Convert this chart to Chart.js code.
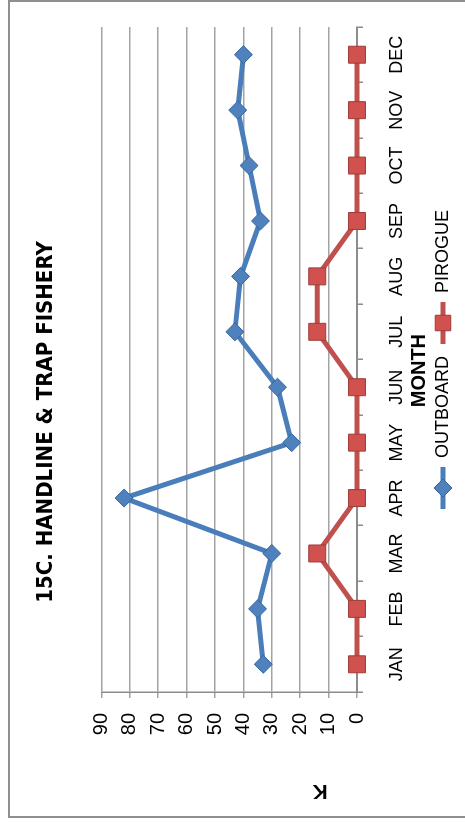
<!DOCTYPE html>
<html>
<head>
<meta charset="utf-8">
<script src="https://cdn.jsdelivr.net/npm/chart.js@4"></script>
<style>
  html, body { margin: 0; padding: 0; background: #fff; overflow: hidden; }
  /* the chart is drawn landscape and turned a quarter turn to the left */
  #frame { position: absolute; left: 0; top: 0; width: 823px; height: 465px;
           transform-origin: 0 0; transform: translate(0, 823px) rotate(-90deg); background: #fff; }
  #box { position: absolute; left: 5px; top: 8px; width: 818px; height: 470px;
         box-sizing: border-box; border: 2px solid #8f8f8f; border-bottom: none; }
  #c { position: absolute; left: 0; top: 0; }
</style>
</head>
<body>
<div id="frame">
  <div id="box"></div>
  <canvas id="c" width="823" height="465"></canvas>
</div>
<script>
// 15C. handline & trap fishery — catch by month
const months = ['JAN', 'FEB', 'MAR', 'APR', 'MAY', 'JUN', 'JUL', 'AUG', 'SEP', 'OCT', 'NOV', 'DEC'];
const outboard = [33, 35, 30, 82, 23, 28, 43, 41, 34, 38, 42, 40];
const pirogue = [0, 0, 14, 0, 0, 0, 14, 14, 0, 0, 0, 0];
const yMin = 0, yMax = 90, yStep = 10;

const BLUE = '#4a7ebb', BLUE_PT = '#4f81bd', BLUE_EDGE = '#35659e';
const RED = '#c0504d', RED_PT = '#d0514e', RED_EDGE = '#9e3d3a';

Chart.defaults.font.family = "'Liberation Sans', Arial, sans-serif";
Chart.defaults.color = '#000';

// legend swatch: a short line with the marker in its middle, like the office legend
function swatch(line, fill, edge, style, r) {
  const c = document.createElement('canvas');
  c.width = 42; c.height = 26;
  const x = c.getContext('2d');
  x.strokeStyle = line; x.lineWidth = 5; x.lineCap = 'butt';
  x.beginPath(); x.moveTo(0, 13); x.lineTo(42, 13); x.stroke();
  x.fillStyle = fill; x.strokeStyle = edge; x.lineWidth = 1;
  Chart.helpers.drawPoint(x, { pointStyle: style, radius: r, borderWidth: 1, rotation: 0 }, 21, 13);
  return c;
}
const icons = [swatch(BLUE, BLUE_PT, BLUE_EDGE, 'rectRot', 9), swatch(RED, RED_PT, RED_EDGE, 'rect', 11)];

new Chart(document.getElementById('c'), {
  type: 'line',
  data: {
    labels: months,
    datasets: [
      { label: 'OUTBOARD', data: outboard, borderColor: BLUE, borderWidth: 5, tension: 0, clip: false,
        borderJoinStyle: 'round', pointStyle: 'rectRot', pointRadius: 9,
        pointBackgroundColor: BLUE_PT, pointBorderColor: BLUE_EDGE, pointBorderWidth: 1 },
      { label: 'PIROGUE', data: pirogue, borderColor: RED, borderWidth: 5, tension: 0, clip: false,
        borderJoinStyle: 'round', pointStyle: 'rect', pointRadius: 12,
        pointBackgroundColor: RED_PT, pointBorderColor: RED_EDGE, pointBorderWidth: 1 },
    ],
  },
  options: {
    responsive: false, animation: false,
    layout: { padding: { left: 6, right: 27, top: 8, bottom: 3 } },
    plugins: {
      title: { display: true, text: '15C. HANDLINE & TRAP FISHERY', color: '#000',
        font: { family: "'Liberation Sans Narrow', 'DejaVu Sans Condensed', 'Liberation Sans', sans-serif", size: 22, weight: 'bold' },
        padding: { top: 25, bottom: 42 } },
      legend: { position: 'bottom', fullSize: false,
        labels: { usePointStyle: true, pointStyleWidth: 42, padding: 12, font: { size: 18 }, color: '#000',
          generateLabels: ch => Chart.defaults.plugins.legend.labels.generateLabels(ch)
            .map((it, i) => Object.assign(it, { pointStyle: icons[i] })) } },
      tooltip: { enabled: false },
    },
    scales: {
      x: {
        offset: true,
        grid: { offset: true, drawOnChartArea: false, tickLength: 6, color: '#8c8c8c', lineWidth: 1.5 },
        border: { color: '#8c8c8c', width: 2 },
        ticks: { padding: 23, maxRotation: 0, autoSkip: false, font: { size: 18 } },
        title: { display: true, text: 'MONTH    ', font: { size: 20, weight: 'bold' }, padding: { top: 0, bottom: -9 } },
        afterFit: s => { s.height = 65; },
      },
      y: {
        min: yMin, max: yMax,
        ticks: { stepSize: yStep, padding: 15, font: { size: 20 } },
        grid: { color: '#a3a3a3', lineWidth: 1.5, tickLength: 6 },
        border: { color: '#8c8c8c', width: 1.5 },
        title: { display: true, text: '     K', align: 'start', font: { size: 21, weight: 'bold' }, padding: { top: 14 } },
        afterFit: s => { s.width = 125; },
      },
    },
  },
});
</script>
</body>
</html>
